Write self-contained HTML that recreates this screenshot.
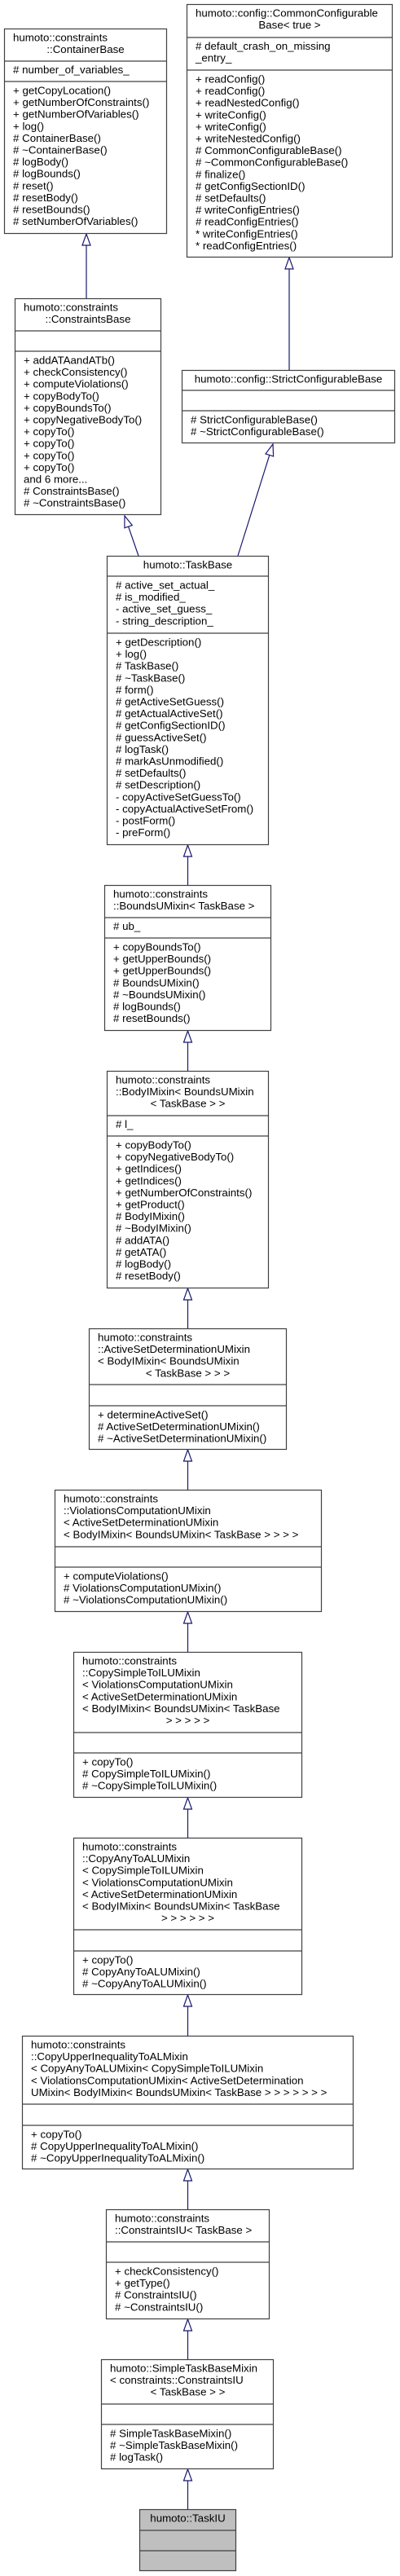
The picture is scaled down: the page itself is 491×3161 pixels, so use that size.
<!DOCTYPE html>
<html><head><meta charset="utf-8">
<style>
html,body{margin:0;padding:0;background:#fff;}
svg{display:block;}
text{font-family:"Liberation Sans",Arial,sans-serif;font-size:13.3px;fill:#000;}
.c{text-anchor:middle;}
rect{fill:#fff;stroke:#404040;stroke-width:1.2;}
line.d{stroke:#404040;stroke-width:1.2;}
.e{stroke:#191970;stroke-width:1.2;fill:none;}
.t{stroke:#191970;stroke-width:1.2;fill:#fff;}
</style></head><body>
<svg width="491" height="3161" viewBox="0 0 491 3161" xmlns="http://www.w3.org/2000/svg">

<!-- edges -->
<line class="e" x1="106" y1="301" x2="106" y2="366"/><polygon class="t" points="106,287 101,301 111,301"/>
<line class="e" x1="355" y1="330" x2="355" y2="454"/><polygon class="t" points="355,316 350,330 360,330"/>
<line class="e" x1="157.6" y1="646.2" x2="170" y2="682"/><polygon class="t" points="153,633 162.3,644.6 152.9,647.8"/>
<line class="e" x1="330.8" y1="558.4" x2="292" y2="682"/><polygon class="t" points="335,545 335.6,559.9 326,556.9"/>
<line class="e" x1="230.5" y1="1051" x2="230.5" y2="1086"/><polygon class="t" points="230.5,1037 225.5,1051 235.5,1051"/>
<line class="e" x1="230.5" y1="1279" x2="230.5" y2="1314"/><polygon class="t" points="230.5,1265 225.5,1279 235.5,1279"/>
<line class="e" x1="230.5" y1="1595" x2="230.5" y2="1630"/><polygon class="t" points="230.5,1581 225.5,1595 235.5,1595"/>
<line class="e" x1="230.5" y1="1793" x2="230.5" y2="1828"/><polygon class="t" points="230.5,1779 225.5,1793 235.5,1793"/>
<line class="e" x1="230.5" y1="1992" x2="230.5" y2="2027"/><polygon class="t" points="230.5,1978 225.5,1992 235.5,1992"/>
<line class="e" x1="230.5" y1="2220" x2="230.5" y2="2255"/><polygon class="t" points="230.5,2206 225.5,2220 235.5,2220"/>
<line class="e" x1="230.5" y1="2462" x2="230.5" y2="2498"/><polygon class="t" points="230.5,2448 225.5,2462 235.5,2462"/>
<line class="e" x1="230.5" y1="2676" x2="230.5" y2="2711"/><polygon class="t" points="230.5,2662 225.5,2676 235.5,2676"/>
<line class="e" x1="230.5" y1="2860" x2="230.5" y2="2895"/><polygon class="t" points="230.5,2846 225.5,2860 235.5,2860"/>
<line class="e" x1="230.5" y1="3044" x2="230.5" y2="3079"/><polygon class="t" points="230.5,3030 225.5,3044 235.5,3044"/>

<!-- A ContainerBase -->
<rect x="5.5" y="35.5" width="199" height="251"/>
<line class="d" x1="5.5" y1="75" x2="204.5" y2="75"/><line class="d" x1="5.5" y1="100" x2="204.5" y2="100"/>
<text x="16" y="50.5">humoto::constraints</text><text class="c" x="105" y="65">::ContainerBase</text>
<text x="16" y="90">#&#160;number_of_variables_</text>
<text x="16" y="115.5">+ getCopyLocation()</text>
<text x="16" y="130.1">+ getNumberOfConstraints()</text>
<text x="16" y="144.7">+ getNumberOfVariables()</text>
<text x="16" y="159.3">+ log()</text>
<text x="16" y="173.9"># ContainerBase()</text>
<text x="16" y="188.5"># ~ContainerBase()</text>
<text x="16" y="203.1"># logBody()</text>
<text x="16" y="217.7"># logBounds()</text>
<text x="16" y="232.3"># reset()</text>
<text x="16" y="246.9"># resetBody()</text>
<text x="16" y="261.5"># resetBounds()</text>
<text x="16" y="276.1"># setNumberOfVariables()</text>

<!-- B CommonConfigurableBase -->
<rect x="229.5" y="5.5" width="252" height="310"/>
<line class="d" x1="229.5" y1="46" x2="481.5" y2="46"/><line class="d" x1="229.5" y1="86" x2="481.5" y2="86"/>
<text x="240" y="20.5">humoto::config::CommonConfigurable</text><text class="c" x="355.5" y="35">Base&lt; true &gt;</text>
<text x="240" y="61"># default_crash_on_missing</text>
<text x="240" y="75.6">_entry_</text>
<text x="240" y="101.5">+ readConfig()</text>
<text x="240" y="116.1">+ readConfig()</text>
<text x="240" y="130.7">+ readNestedConfig()</text>
<text x="240" y="145.3">+ writeConfig()</text>
<text x="240" y="159.9">+ writeConfig()</text>
<text x="240" y="174.5">+ writeNestedConfig()</text>
<text x="240" y="189.1"># CommonConfigurableBase()</text>
<text x="240" y="203.7"># ~CommonConfigurableBase()</text>
<text x="240" y="218.3"># finalize()</text>
<text x="240" y="232.9"># getConfigSectionID()</text>
<text x="240" y="247.5"># setDefaults()</text>
<text x="240" y="262.1"># writeConfigEntries()</text>
<text x="240" y="276.7"># readConfigEntries()</text>
<text x="240" y="291.3">* writeConfigEntries()</text>
<text x="240" y="305.9">* readConfigEntries()</text>

<!-- C ConstraintsBase -->
<rect x="18.5" y="366.5" width="179" height="265"/>
<line class="d" x1="18.5" y1="406" x2="197.5" y2="406"/><line class="d" x1="18.5" y1="431" x2="197.5" y2="431"/>
<text x="29" y="381.5">humoto::constraints</text><text class="c" x="108" y="396">::ConstraintsBase</text>
<text x="29" y="446.5">+ addATAandATb()</text>
<text x="29" y="461.1">+ checkConsistency()</text>
<text x="29" y="475.7">+ computeViolations()</text>
<text x="29" y="490.3">+ copyBodyTo()</text>
<text x="29" y="504.9">+ copyBoundsTo()</text>
<text x="29" y="519.5">+ copyNegativeBodyTo()</text>
<text x="29" y="534.1">+ copyTo()</text>
<text x="29" y="548.7">+ copyTo()</text>
<text x="29" y="563.3">+ copyTo()</text>
<text x="29" y="577.9">+ copyTo()</text>
<text x="29" y="592.5">and 6 more...</text>
<text x="29" y="607.1"># ConstraintsBase()</text>
<text x="29" y="621.7"># ~ConstraintsBase()</text>

<!-- D StrictConfigurableBase -->
<rect x="223.5" y="454.5" width="261" height="89"/>
<line class="d" x1="223.5" y1="479" x2="484.5" y2="479"/><line class="d" x1="223.5" y1="504" x2="484.5" y2="504"/>
<text class="c" x="354" y="469.5">humoto::config::StrictConfigurableBase</text>
<text x="234" y="519.5"># StrictConfigurableBase()</text>
<text x="234" y="534.1"># ~StrictConfigurableBase()</text>

<!-- E TaskBase -->
<rect x="131.5" y="682.5" width="198" height="354"/>
<line class="d" x1="131.5" y1="707" x2="329.5" y2="707"/><line class="d" x1="131.5" y1="777" x2="329.5" y2="777"/>
<text class="c" x="230.5" y="697.5">humoto::TaskBase</text>
<text x="142" y="722.5"># active_set_actual_</text>
<text x="142" y="737.1"># is_modified_</text>
<text x="142" y="751.7">- active_set_guess_</text>
<text x="142" y="766.3">- string_description_</text>
<text x="142" y="792.5">+ getDescription()</text>
<text x="142" y="807.1">+ log()</text>
<text x="142" y="821.7"># TaskBase()</text>
<text x="142" y="836.3"># ~TaskBase()</text>
<text x="142" y="850.9"># form()</text>
<text x="142" y="865.5"># getActiveSetGuess()</text>
<text x="142" y="880.1"># getActualActiveSet()</text>
<text x="142" y="894.7"># getConfigSectionID()</text>
<text x="142" y="909.3"># guessActiveSet()</text>
<text x="142" y="923.9"># logTask()</text>
<text x="142" y="938.5"># markAsUnmodified()</text>
<text x="142" y="953.1"># setDefaults()</text>
<text x="142" y="967.7"># setDescription()</text>
<text x="142" y="982.3">- copyActiveSetGuessTo()</text>
<text x="142" y="996.9">- copyActualActiveSetFrom()</text>
<text x="142" y="1011.5">- postForm()</text>
<text x="142" y="1026.1">- preForm()</text>

<!-- F BoundsUMixin -->
<rect x="128.5" y="1086.5" width="204" height="178"/>
<line class="d" x1="128.5" y1="1126" x2="332.5" y2="1126"/><line class="d" x1="128.5" y1="1151" x2="332.5" y2="1151"/>
<text x="139" y="1101.5">humoto::constraints</text>
<text x="139" y="1116.1">::BoundsUMixin&lt; TaskBase &gt;</text>
<text x="139" y="1141"># ub_</text>
<text x="139" y="1166.5">+ copyBoundsTo()</text>
<text x="139" y="1181.1">+ getUpperBounds()</text>
<text x="139" y="1195.7">+ getUpperBounds()</text>
<text x="139" y="1210.3"># BoundsUMixin()</text>
<text x="139" y="1224.9"># ~BoundsUMixin()</text>
<text x="139" y="1239.5"># logBounds()</text>
<text x="139" y="1254.1"># resetBounds()</text>

<!-- G BodyIMixin -->
<rect x="131.5" y="1314.5" width="198" height="266"/>
<line class="d" x1="131.5" y1="1369" x2="329.5" y2="1369"/><line class="d" x1="131.5" y1="1394" x2="329.5" y2="1394"/>
<text x="142" y="1329.5">humoto::constraints</text>
<text x="142" y="1344.1">::BodyIMixin&lt; BoundsUMixin</text>
<text class="c" x="230.5" y="1358.7">&lt; TaskBase &gt; &gt;</text>
<text x="142" y="1384"># l_</text>
<text x="142" y="1409.5">+ copyBodyTo()</text>
<text x="142" y="1424.1">+ copyNegativeBodyTo()</text>
<text x="142" y="1438.7">+ getIndices()</text>
<text x="142" y="1453.3">+ getIndices()</text>
<text x="142" y="1467.9">+ getNumberOfConstraints()</text>
<text x="142" y="1482.5">+ getProduct()</text>
<text x="142" y="1497.1"># BodyIMixin()</text>
<text x="142" y="1511.7"># ~BodyIMixin()</text>
<text x="142" y="1526.3"># addATA()</text>
<text x="142" y="1540.9"># getATA()</text>
<text x="142" y="1555.5"># logBody()</text>
<text x="142" y="1570.1"># resetBody()</text>

<!-- H ActiveSetDeterminationUMixin -->
<rect x="109.5" y="1630.5" width="242" height="148"/>
<line class="d" x1="109.5" y1="1699" x2="351.5" y2="1699"/><line class="d" x1="109.5" y1="1725" x2="351.5" y2="1725"/>
<text x="120" y="1645.5">humoto::constraints</text>
<text x="120" y="1660.1">::ActiveSetDeterminationUMixin</text>
<text x="120" y="1674.7">&lt; BodyIMixin&lt; BoundsUMixin</text>
<text class="c" x="230.5" y="1689.3">&lt; TaskBase &gt; &gt; &gt;</text>
<text x="120" y="1740.5">+ determineActiveSet()</text>
<text x="120" y="1755.1"># ActiveSetDeterminationUMixin()</text>
<text x="120" y="1769.7"># ~ActiveSetDeterminationUMixin()</text>

<!-- I ViolationsComputationUMixin -->
<rect x="67.5" y="1828.5" width="327" height="149"/>
<line class="d" x1="67.5" y1="1898" x2="394.5" y2="1898"/><line class="d" x1="67.5" y1="1923" x2="394.5" y2="1923"/>
<text x="78" y="1843.5">humoto::constraints</text>
<text x="78" y="1858.1">::ViolationsComputationUMixin</text>
<text x="78" y="1872.7">&lt; ActiveSetDeterminationUMixin</text>
<text x="78" y="1887.3">&lt; BodyIMixin&lt; BoundsUMixin&lt; TaskBase &gt; &gt; &gt; &gt;</text>
<text x="78" y="1938.5">+ computeViolations()</text>
<text x="78" y="1953.1"># ViolationsComputationUMixin()</text>
<text x="78" y="1967.7"># ~ViolationsComputationUMixin()</text>

<!-- J CopySimpleToILUMixin -->
<rect x="90.5" y="2027.5" width="280" height="178"/>
<line class="d" x1="90.5" y1="2126" x2="370.5" y2="2126"/><line class="d" x1="90.5" y1="2151" x2="370.5" y2="2151"/>
<text x="101" y="2042.5">humoto::constraints</text>
<text x="101" y="2057.1">::CopySimpleToILUMixin</text>
<text x="101" y="2071.7">&lt; ViolationsComputationUMixin</text>
<text x="101" y="2086.3">&lt; ActiveSetDeterminationUMixin</text>
<text x="101" y="2100.9">&lt; BodyIMixin&lt; BoundsUMixin&lt; TaskBase</text>
<text class="c" x="230.5" y="2115.5">&gt; &gt; &gt; &gt; &gt;</text>
<text x="101" y="2166.5">+ copyTo()</text>
<text x="101" y="2181.1"># CopySimpleToILUMixin()</text>
<text x="101" y="2195.7"># ~CopySimpleToILUMixin()</text>

<!-- K CopyAnyToALUMixin -->
<rect x="90.5" y="2255.5" width="280" height="192"/>
<line class="d" x1="90.5" y1="2368" x2="370.5" y2="2368"/><line class="d" x1="90.5" y1="2394" x2="370.5" y2="2394"/>
<text x="101" y="2270.5">humoto::constraints</text>
<text x="101" y="2285.1">::CopyAnyToALUMixin</text>
<text x="101" y="2299.7">&lt; CopySimpleToILUMixin</text>
<text x="101" y="2314.3">&lt; ViolationsComputationUMixin</text>
<text x="101" y="2328.9">&lt; ActiveSetDeterminationUMixin</text>
<text x="101" y="2343.5">&lt; BodyIMixin&lt; BoundsUMixin&lt; TaskBase</text>
<text class="c" x="230.5" y="2358.1">&gt; &gt; &gt; &gt; &gt; &gt;</text>
<text x="101" y="2409.5">+ copyTo()</text>
<text x="101" y="2424.1"># CopyAnyToALUMixin()</text>
<text x="101" y="2438.7"># ~CopyAnyToALUMixin()</text>

<!-- L CopyUpperInequalityToALMixin -->
<rect x="27.5" y="2498.5" width="406" height="163"/>
<line class="d" x1="27.5" y1="2582" x2="433.5" y2="2582"/><line class="d" x1="27.5" y1="2608" x2="433.5" y2="2608"/>
<text x="38" y="2513.5">humoto::constraints</text>
<text x="38" y="2528.1">::CopyUpperInequalityToALMixin</text>
<text x="38" y="2542.7">&lt; CopyAnyToALUMixin&lt; CopySimpleToILUMixin</text>
<text x="38" y="2557.3">&lt; ViolationsComputationUMixin&lt; ActiveSetDetermination</text>
<text x="38" y="2571.9">UMixin&lt; BodyIMixin&lt; BoundsUMixin&lt; TaskBase &gt; &gt; &gt; &gt; &gt; &gt; &gt;</text>
<text x="38" y="2623.5">+ copyTo()</text>
<text x="38" y="2638.1"># CopyUpperInequalityToALMixin()</text>
<text x="38" y="2652.7"># ~CopyUpperInequalityToALMixin()</text>

<!-- M ConstraintsIU -->
<rect x="130.5" y="2711.5" width="200" height="134"/>
<line class="d" x1="130.5" y1="2751" x2="330.5" y2="2751"/><line class="d" x1="130.5" y1="2776" x2="330.5" y2="2776"/>
<text x="141" y="2726.5">humoto::constraints</text>
<text x="141" y="2741.1">::ConstraintsIU&lt; TaskBase &gt;</text>
<text x="141" y="2791.5">+ checkConsistency()</text>
<text x="141" y="2806.1">+ getType()</text>
<text x="141" y="2820.7"># ConstraintsIU()</text>
<text x="141" y="2835.3"># ~ConstraintsIU()</text>

<!-- N SimpleTaskBaseMixin -->
<rect x="124.5" y="2895.5" width="211" height="134"/>
<line class="d" x1="124.5" y1="2950" x2="335.5" y2="2950"/><line class="d" x1="124.5" y1="2975" x2="335.5" y2="2975"/>
<text x="135" y="2910.5">humoto::SimpleTaskBaseMixin</text>
<text x="135" y="2925.1">&lt; constraints::ConstraintsIU</text>
<text class="c" x="230.5" y="2939.7">&lt; TaskBase &gt; &gt;</text>
<text x="135" y="2990.5"># SimpleTaskBaseMixin()</text>
<text x="135" y="3005.1"># ~SimpleTaskBaseMixin()</text>
<text x="135" y="3019.7"># logTask()</text>

<!-- O TaskIU -->
<rect x="171.5" y="3079.5" width="118" height="75" style="fill:#bfbfbf"/>
<line class="d" x1="171.5" y1="3105" x2="289.5" y2="3105"/><line class="d" x1="171.5" y1="3130" x2="289.5" y2="3130"/>
<text class="c" x="230.5" y="3094.5">humoto::TaskIU</text>

</svg>
</body></html>
